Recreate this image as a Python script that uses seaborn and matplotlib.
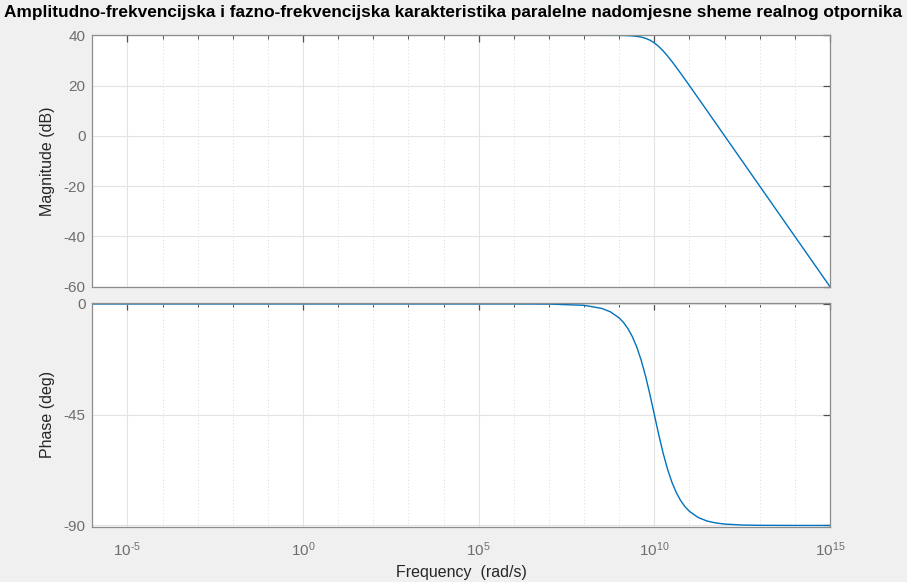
"""
Bode plot of the parallel equivalent circuit of a real resistor,
redrawn with seaborn / matplotlib to look like MATLAB's bode() output.
"""

import numpy as np
import matplotlib
matplotlib.use("Agg")
import matplotlib.pyplot as plt
import matplotlib.ticker as mticker
import seaborn as sns

# ── Data ──────────────────────────────────────────────────────────────────────

LOG_FREQ = [-6, -5, -4, -3, -2, -1, 0, 1, 2, 3, 4, 5, 6, 7, 8, 8.5, 8.75,
            9, 9.125, 9.25, 9.375, 9.5, 9.625, 9.75, 9.875, 10, 10.125, 10.25,
            10.375, 10.5, 10.625, 10.75, 10.875, 11, 11.25, 11.5, 11.75, 12,
            12.5, 13, 14, 15]

MAGNITUDE_DB = [40, 40, 40, 40, 40, 40, 40, 40, 40, 40, 40, 40, 40, 40, 40,
                40.0, 39.99, 39.96, 39.92, 39.87, 39.76, 39.59, 39.29, 38.81,
                38.06, 36.99, 35.56, 33.81, 31.79, 29.59, 27.26, 24.87, 22.42,
                19.96, 14.99, 10.0, 5.0, 0.0, -10.0, -20.0, -40.0, -60.0]

PHASE_DEG = [0, 0, 0, 0, 0, 0, 0, 0, 0, 0, 0, 0, 0, -0.06, -0.57,
             -1.81, -3.22, -5.71, -7.60, -10.08, -13.34, -17.55, -22.87,
             -29.36, -36.87, -45.0, -53.13, -60.64, -67.13, -72.45, -76.66,
             -79.92, -82.41, -84.29, -86.78, -88.19, -88.98, -89.43, -89.82,
             -89.94, -89.99, -90.0]

FREQ = [10.0 ** e for e in LOG_FREQ]

MAG_TICKS = [-60, -40, -20, 0, 20, 40]
PHASE_TICKS = [-90, -45, 0]
X_LABEL_EXPONENTS = [-5, 0, 5, 10, 15]

TITLE = ("Amplitudno-frekvencijska i fazno-frekvencijska karakteristika "
         "paralelne nadomjesne sheme realnog otpornika")

# ── Style ─────────────────────────────────────────────────────────────────────

LINE_COLOR = "#0072BD"
BG_COLOR = "#f0f0f0"
SPINE_COLOR = "#8c8c8c"
TICKMARK_COLOR = "#505050"
TICK_COLOR = "#6e6e6e"
GRID_COLOR = "#e3e3e3"
MINOR_GRID_COLOR = "#d0d0d0"

sns.set_style("white")
plt.rcParams["font.family"] = ["Liberation Sans", "DejaVu Sans"]
plt.rcParams["mathtext.fontset"] = "custom"
plt.rcParams["mathtext.rm"] = "Liberation Sans"
plt.rcParams["mathtext.it"] = "Liberation Sans"
plt.rcParams["axes.unicode_minus"] = False


def log_label(x, _):
    e = int(round(np.log10(x)))
    exp = str(abs(e))
    if e < 0:
        exp = "\u2010" + exp      # plain hyphen, as MATLAB draws it
    return r"$\mathregular{10^{%s}}$" % exp


def style_axes(ax, yticks, ylim):
    ax.set_xscale("log")
    ax.set_xlim(1e-6, 1e15)
    ax.set_ylim(*ylim)
    ax.set_yticks(yticks)
    ax.xaxis.set_major_locator(mticker.FixedLocator([10.0 ** e for e in X_LABEL_EXPONENTS]))
    ax.xaxis.set_minor_locator(mticker.FixedLocator([10.0 ** e for e in range(-6, 16)]))
    ax.xaxis.set_minor_formatter(mticker.NullFormatter())
    ax.grid(True, which="major", color=GRID_COLOR, linewidth=0.8, linestyle="-")
    ax.grid(True, which="minor", axis="x", color=MINOR_GRID_COLOR, linewidth=0.6,
            linestyle=(0, (1, 3)))
    ax.set_axisbelow(True)
    for s in ax.spines.values():
        s.set_color(SPINE_COLOR)
        s.set_linewidth(0.9)
    ax.tick_params(which="both", direction="in", top=True, right=True,
                   color=TICKMARK_COLOR, labelcolor=TICK_COLOR, labelsize=11)
    ax.tick_params(which="major", length=5, width=0.9)
    ax.tick_params(which="minor", length=3, width=0.7)
    ax.tick_params(axis="x", which="major", pad=10)
    ax.tick_params(axis="y", which="major", pad=5)
    ax.set_facecolor("white")


# ── Figure ────────────────────────────────────────────────────────────────────

fig = plt.figure(figsize=(9.07, 5.82), dpi=100, facecolor=BG_COLOR)
ax_mag = fig.add_axes([0.1018, 0.5074, 0.8133, 0.4319])
ax_ph = fig.add_axes([0.1018, 0.0950, 0.8133, 0.3849])

sns.lineplot(x=FREQ, y=MAGNITUDE_DB, ax=ax_mag, color=LINE_COLOR, linewidth=1.0)
sns.lineplot(x=FREQ, y=PHASE_DEG, ax=ax_ph, color=LINE_COLOR, linewidth=1.0)

style_axes(ax_mag, MAG_TICKS, (-60, 40))
style_axes(ax_ph, PHASE_TICKS, (-90.5, 0.5))

ax_mag.xaxis.set_major_formatter(mticker.NullFormatter())
ax_ph.xaxis.set_major_formatter(mticker.FuncFormatter(log_label))

ax_mag.set_ylabel("Magnitude (dB)", fontsize=11.5, color="#262626", labelpad=6)
ax_ph.set_ylabel("Phase (deg)", fontsize=11.5, color="#262626", labelpad=6)
ax_ph.set_xlabel("Frequency  (rad/s)", fontsize=11.5, color="#262626", labelpad=4)

fig.text(0.5, 0.978, TITLE, ha="center", va="center", fontsize=12.4,
         fontweight="bold", color="black")

fig.savefig("out.png", dpi=100, facecolor=BG_COLOR)
